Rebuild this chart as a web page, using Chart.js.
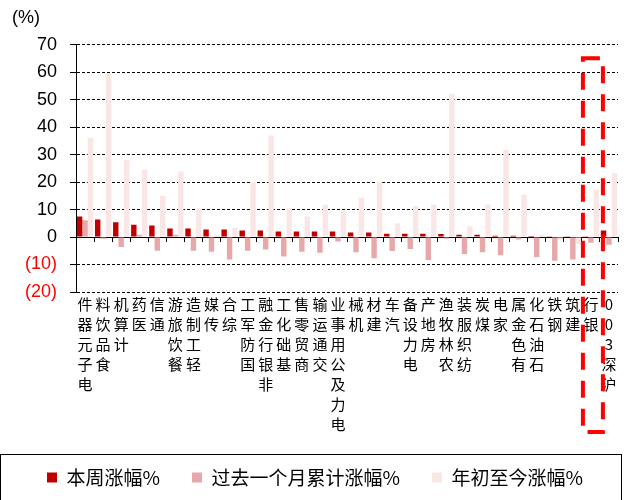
<!DOCTYPE html>
<html>
<head>
<meta charset="utf-8">
<script src="https://cdn.jsdelivr.net/npm/chart.js@4.4.0/dist/chart.umd.min.js"></script>
<style>
  html, body { margin: 0; padding: 0; background: #fff; }
  #caja { width: 629px; height: 500px; }
</style>
</head>
<body>
<div id="caja"><canvas id="myChart"></canvas></div>
<script>
// categorias y series (%)
var sectores = ['电子元器件','食品饮料','计算机','医药','通信','餐饮旅游','轻工制造','传媒','综合','国防军工',
  '非银行金融','基础化工','商贸零售','交通运输','电力及公用事业','机械','建材','汽车','电力设备','房地产',
  '农林牧渔','纺织服装','煤炭','家电','有色金属','石油石化','钢铁','建筑','银行','沪深300']

var semana = [7.5, 6.4, 5.4, 4.5, 4.2, 3.1, 3.1, 2.7, 2.7, 2.4,
  2.4, 2.0, 2.0, 2.0, 2.0, 1.6, 1.6, 1.2, 1.2, 1.2,
  1.1, 0.8, 0.8, 0.5, 0.5, 0.4, 0.1, 0.1, 0.3, 2.4]

var mes = [6.1, -0.6, -3.6, 0.8, -5.0, 0.8, -5.0, -5.4, -8.2, -5.0,
  -4.5, -7.1, -5.4, -5.7, -1.6, -5.5, -7.7, -5.1, -4.4, -8.4,
  -0.6, -6.2, -5.5, -6.6, -0.9, -7.3, -8.6, -8.2, -2.1, -2.8]

var anual = [36.1, 59.5, 28.0, 24.5, 15.0, 23.8, 10.4, 0.7, 3.4, 20.0,
  36.9, 10.5, 7.5, 11.7, 9.5, 14.3, 20.0, 5.0, 11.2, 11.7,
  52.1, 3.9, 11.7, 31.7, 15.5, 0.8, -1.2, -2.5, 17.2, 23.2]

var marcas_y = [-20, -10, 0, 10, 20, 30, 40, 50, 60, 70]

var nombres = ['本周涨幅%', '过去一个月累计涨幅%', '年初至今涨幅%']
var colores = ['#C00000', '#E6A8A8', '#FBE6E6']

// recuadro rojo sobre "银行" y marco de la leyenda
const marcos = {
  id: 'marcos',
  afterDraw(chart) {
    const ctx = chart.ctx
    const x = chart.scales.x
    const y = chart.scales.y
    const cx = x.getPixelForValue(28)
    const arriba = y.getPixelForValue(65)
    ctx.save()
    ctx.strokeStyle = '#FF0000'
    ctx.lineWidth = 4
    ctx.setLineDash([17, 11])
    ctx.strokeRect(cx - 8, arriba, 20, x.bottom - 4 - arriba)
    ctx.restore()

    const lg = chart.legend
    ctx.save()
    ctx.strokeStyle = '#000'
    ctx.lineWidth = 1
    ctx.strokeRect(0.5, Math.round(lg.top + 18) + 0.5, lg.right + 3, 120)
    ctx.restore()
  }
}

var ctx = document.getElementById('myChart')
var grafico = new Chart(ctx, {
  type: 'bar',
  data: {
    labels: sectores,
    datasets: nombres.map((n, i) => ({
      label: n,
      data: [semana, mes, anual][i],
      backgroundColor: colores[i],
      barPercentage: 1,
      categoryPercentage: 0.9
    }))
  },
  plugins: [marcos],
  options: {
    responsive: true,
    maintainAspectRatio: false,
    animation: false,
    layout: { padding: { top: 5, left: 12, right: 11, bottom: 3 } },
    plugins: {
      title: {
        display: true,
        text: '(%)',
        align: 'start',
        color: '#000',
        font: { family: 'Liberation Sans', size: 18, weight: 'normal' },
        padding: { top: 2, bottom: 16 }
      },
      legend: {
        position: 'bottom',
        labels: {
          boxWidth: 10,
          boxHeight: 10,
          padding: 32,
          color: '#000',
          font: { family: 'Noto Sans CJK SC', size: 19 }
        }
      },
      tooltip: { enabled: false }
    },
    scales: {
      x: {
        offset: true,
        grid: { display: false, drawTicks: false },
        border: { display: false },
        ticks: {
          autoSkip: false,
          maxRotation: 0,
          minRotation: 0,
          padding: 2,
          color: '#000',
          font: { family: 'Noto Sans CJK SC', size: 15, lineHeight: '20px' },
          callback: (v, i) => Array.from(sectores[i]).reverse()
        }
      },
      x2: {
        type: 'category',
        axis: 'x',
        position: { y: 0 },
        offset: true,
        grid: { display: true, offset: true, drawOnChartArea: false, drawTicks: true, tickLength: 5, color: '#000' },
        border: { display: false },
        ticks: { display: false }
      },
      y: {
        min: -20,
        max: 70,
        afterBuildTicks: (eje) => { eje.ticks = marcas_y.map(v => ({ value: v })) },
        grid: { color: '#000', lineWidth: 1, tickLength: 6, tickColor: '#000' },
        border: {
          display: true,
          color: '#000',
          width: 1,
          dash: (c) => (c.tick && c.tick.value === 0) ? [] : [3, 2]
        },
        ticks: {
          autoSkip: false,
          padding: 13,
          color: (c) => c.tick.value < 0 ? '#FF0000' : '#000',
          font: { family: 'Liberation Sans', size: 18 },
          callback: (v) => v < 0 ? '(' + (-v) + ')' : v
        }
      }
    }
  }
})
</script>
</body>
</html>
